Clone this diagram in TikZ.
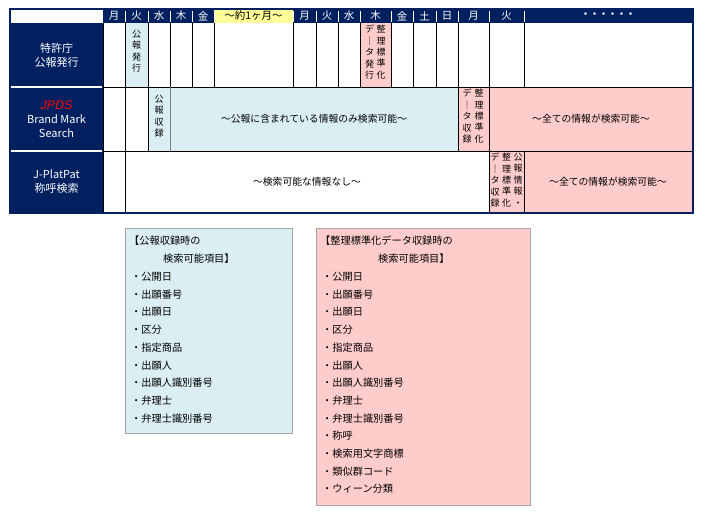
\documentclass[tikz,border=0pt]{standalone}
\usepackage{fontspec}
\setmainfont{Noto Sans CJK JP}
\newfontfamily\latinsf{Liberation Sans}
\definecolor{navy}{RGB}{0,32,96}
\definecolor{lblue}{RGB}{218,238,243}
\definecolor{pinkc}{RGB}{255,204,204}
\definecolor{yel}{RGB}{255,255,153}
\begin{document}
\begin{tikzpicture}[x=1pt,y=-1pt,
  hd/.style={font=\fontsize{10.5}{12}\selectfont,text=white,anchor=center},
  vt/.style={font=\fontsize{9}{11.4}\selectfont,align=center,anchor=north,inner sep=0pt},
  lab/.style={font=\fontsize{11}{14}\selectfont,text=white,align=center},
  ct/.style={font=\fontsize{9.8}{11}\selectfont},
  grid/.style={black,line width=0.8pt},
  bx/.style={draw=gray!70,line width=0.8pt},
  item/.style={font=\fontsize{10.2}{12}\selectfont,anchor=west,inner sep=0pt}]
\useasboundingbox (0,0) rectangle (708,517);
% header
\fill[navy] (103,9) rectangle (693,23);
\fill[yel] (214,10) rectangle (293,23);
\foreach \x in {125,148,170,192,214,293,316,338,360,391,413,436,458,489,524}
  \draw[white,line width=1pt] (\x,11) -- (\x,22);
\foreach \t/\x in {月/114,火/136.5,水/159,木/181,金/203,月/304.5,火/327,水/349,木/375.5,金/402,土/424.5,日/447,月/473.5,火/506.5}
  \node[hd] (h\x) at (\x,16) {\t};
\node[hd,text=black] (hm) at (253.5,16) {～約1ヶ月～};
\node[hd,font=\fontsize{9}{10}\selectfont\bfseries] (hdots) at (608,15) {・・・・・・};
% left labels
\fill[navy] (10,23) rectangle (103,213);
\draw[white,line width=1.2pt] (11,87) -- (102,87) (11,151) -- (102,151);
\node[lab] (l1) at (56.5,55) {特許庁\\公報発行};
\node[lab] (l2) at (56.5,119) {{\color{red}\latinsf\itshape\fontsize{12.5}{14}\selectfont JPDS}\\Brand Mark\\Search};
\node[lab] (l3) at (56.5,182) {J-PlatPat\\称呼検索};
% fills
\fill[lblue] (125,23) rectangle (148,87);
\fill[pinkc] (360,23) rectangle (391,87);
\fill[lblue] (148,87) rectangle (458,151);
\fill[pinkc] (458,87) rectangle (693,151);
\fill[pinkc] (489,151) rectangle (693,213);
% grid
\draw[grid] (103,87) -- (693,87) (103,151) -- (693,151);
\foreach \x in {103,125,148,170,192,214,293,316,338,360,391,413,436,458,489,524}
  \draw[grid] (\x,23) -- (\x,87);
\foreach \x in {103,125,148,458,489}
  \draw[grid] (\x,87) -- (\x,151);
\draw[gray,line width=0.5pt] (170,87) -- (170,151);
\foreach \x in {103,125,489,524}
  \draw[grid] (\x,151) -- (\x,213);
\draw[navy,line width=2pt] (10,9) rectangle (693,213);
% cell texts
\node[vt] (a1) at (136.5,30) {公\\報\\発\\行};
\node[vt] (a2) at (381,25) {整\\理\\標\\準\\化};
\node[vt] (a3) at (369.5,25) {デ\\｜\\タ\\発\\行};
\node[vt] (b1) at (159,95) {公\\報\\収\\録};
\node[ct] (b2) at (314,119) {～公報に含まれている情報のみ検索可能～};
\node[vt] (b3) at (479,89) {整\\理\\標\\準\\化};
\node[vt] (b4) at (467,89) {デ\\｜\\タ\\収\\録};
\node[ct] (b5) at (591,119) {～全ての情報が検索可能～};
\node[ct] (c1) at (307,182) {～検索可能な情報なし～};
\node[vt] (c2) at (518,153) {公\\報\\情\\報\\・};
\node[vt] (c3) at (506.5,153) {整\\理\\標\\準\\化};
\node[vt] (c4) at (495,153) {デ\\｜\\タ\\収\\録};
\node[ct] (c5) at (608,182) {～全ての情報が検索可能～};
% boxes
\fill[lblue] (125,228) rectangle (292,433);
\draw[bx] (125,228) rectangle (292,433);
\fill[pinkc] (316,228) rectangle (530,505);
\draw[bx] (316,228) rectangle (530,505);
\node[item] (p0) at (129,241) {【公報収録時の};
\node[item] (p1) at (163,259) {検索可能項目】};
\foreach \t [count=\i] in {・公開日,・出願番号,・出願日,・区分,・指定商品,・出願人,・出願人識別番号,・弁理士,・弁理士識別番号}
  \node[item] (pi\i) at (131,259+17.7*\i) {\t};
\node[item] (q0) at (320,241) {【整理標準化データ収録時の};
\node[item] (q1) at (378,259) {検索可能項目】};
\foreach \t [count=\i] in {・公開日,・出願番号,・出願日,・区分,・指定商品,・出願人,・出願人識別番号,・弁理士,・弁理士識別番号,・称呼,・検索用文字商標,・類似群コード,・ウィーン分類}
  \node[item] (qi\i) at (322,259+17.7*\i) {\t};
\end{tikzpicture}
\end{document}
